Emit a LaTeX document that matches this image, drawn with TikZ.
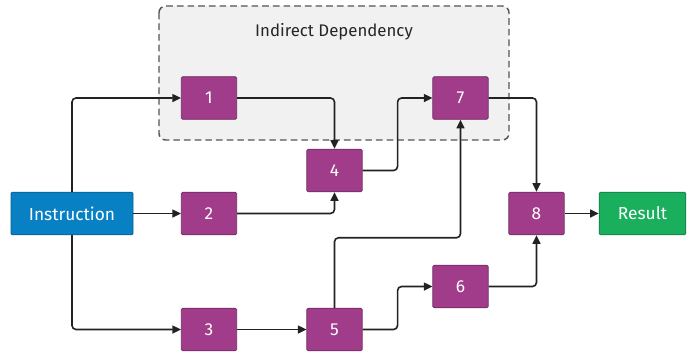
\documentclass[tikz,border=0pt]{standalone}
\usepackage{fontspec}
\setmainfont{Fira Sans}
\usetikzlibrary{arrows.meta}
\definecolor{purp}{HTML}{A13C8B}
\definecolor{purpd}{HTML}{6E2A60}
\definecolor{bluef}{HTML}{0881C4}
\definecolor{blued}{HTML}{0B5E8E}
\definecolor{greenf}{HTML}{1AAF5D}
\definecolor{greend}{HTML}{12784A}
\definecolor{linec}{HTML}{222222}
\definecolor{grpf}{HTML}{F1F1F1}
\definecolor{grpd}{HTML}{555555}
\begin{document}
\begin{tikzpicture}[x=0.75pt,y=-0.75pt,
  box/.style={draw=purpd,fill=purp,text=white,minimum width=41.5pt,minimum height=32pt,inner sep=0pt,rounded corners=1pt,font=\fontsize{13}{15}\selectfont,line width=0.6pt},
  conn/.style={draw=linec,line width=1.2pt,rounded corners=3pt,-{Triangle[length=6.5pt,width=6pt]}}]
\useasboundingbox (0,0) rectangle (687,351);
\draw[grpd,fill=grpf,dashed,dash pattern=on 5pt off 3pt,line width=1.1pt,rounded corners=5pt] (159,6) rectangle (509,140);
\node[font=\fontsize{12.6}{14}\selectfont,text=black!85] (title) at (334,32) {Indirect Dependency};
\node[box] (n1) at (209,98) {1};
\node[box] (n7) at (460.5,98) {7};
\node[box] (n4) at (334.5,170.5) {4};
\node[box] (n2) at (209,213.5) {2};
\node[box,draw=blued,fill=bluef,minimum width=91.5pt] (ins) at (72,213.5) {Instruction};
\node[box] (n8) at (536.5,213.5) {8};
\node[box,draw=greend,fill=greenf,minimum width=65pt] (res) at (642.5,213.5) {Result};
\node[box] (n6) at (460.5,286.5) {6};
\node[box] (n3) at (209,329.5) {3};
\node[box] (n5) at (334.5,329.5) {5};
\draw[conn] (ins.north) |- (n1.west);
\draw[conn] (ins.south) |- (n3.west);
\draw[conn] (ins.east) -- (n2.west);
\draw[conn] (n1.east) -| (n4.north);
\draw[conn] (n2.east) -| (n4.south);
\draw[conn] (n4.east) -- ++(35,0) |- (n7.west);
\draw[conn] (n5.north) -- ++(0,-70) -| (n7.south);
\draw[conn] (n5.east) -- ++(35,0) |- (n6.west);
\draw[conn] (n3.east) -- (n5.west);
\draw[conn] (n7.east) -| (n8.north);
\draw[conn] (n6.east) -| (n8.south);
\draw[conn] (n8.east) -- (res.west);
\end{tikzpicture}
\end{document}
